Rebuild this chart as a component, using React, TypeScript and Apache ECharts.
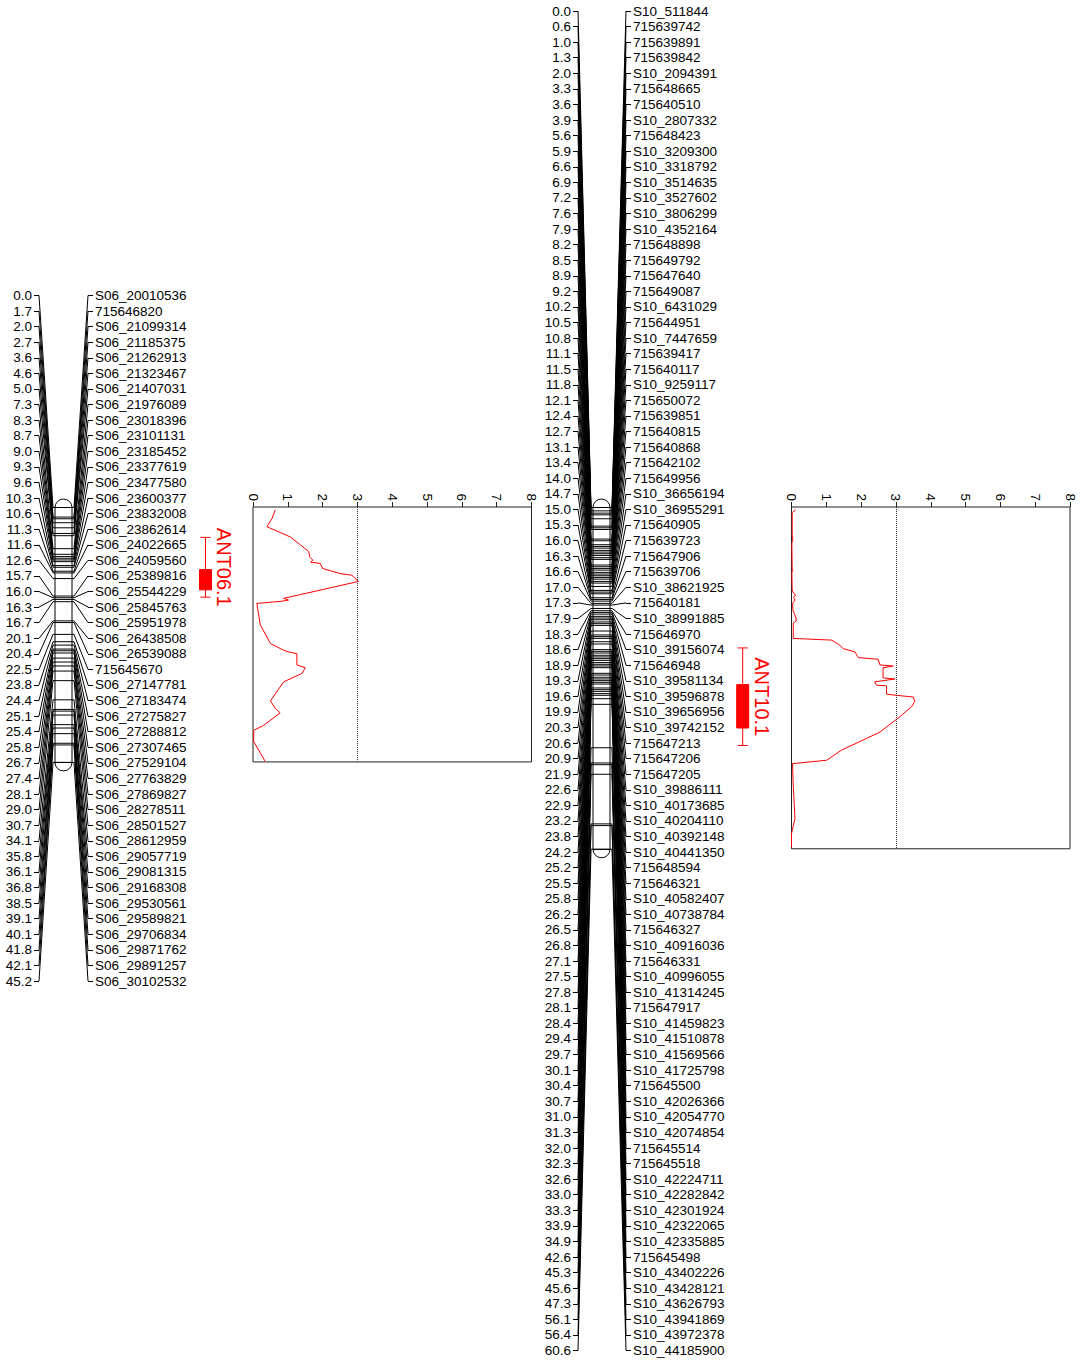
import React, { useEffect, useRef } from "react";
import * as echarts from "echarts";

// ---------- DATA ----------
const leftMarkerCM = [0.0, 1.7, 2.0, 2.7, 3.6, 4.6, 5.0, 7.3, 8.3, 8.7, 9.0, 9.3, 9.6, 10.3, 10.6, 11.3, 11.6, 12.6, 15.7, 16.0, 16.3, 16.7, 20.1, 20.4, 22.5, 23.8, 24.4, 25.1, 25.4, 25.8, 26.7, 27.4, 28.1, 29.0, 30.7, 34.1, 35.8, 36.1, 36.8, 38.5, 39.1, 40.1, 41.8, 42.1, 45.2];
const leftMarkerNames = ["S06_20010536", "715646820", "S06_21099314", "S06_21185375", "S06_21262913", "S06_21323467", "S06_21407031", "S06_21976089", "S06_23018396", "S06_23101131", "S06_23185452", "S06_23377619", "S06_23477580", "S06_23600377", "S06_23832008", "S06_23862614", "S06_24022665", "S06_24059560", "S06_25389816", "S06_25544229", "S06_25845763", "S06_25951978", "S06_26438508", "S06_26539088", "715645670", "S06_27147781", "S06_27183474", "S06_27275827", "S06_27288812", "S06_27307465", "S06_27529104", "S06_27763829", "S06_27869827", "S06_28278511", "S06_28501527", "S06_28612959", "S06_29057719", "S06_29081315", "S06_29168308", "S06_29530561", "S06_29589821", "S06_29706834", "S06_29871762", "S06_29891257", "S06_30102532"];

const rightMarkerCM = [0.0, 0.6, 1.0, 1.3, 2.0, 3.3, 3.6, 3.9, 5.6, 5.9, 6.6, 6.9, 7.2, 7.6, 7.9, 8.2, 8.5, 8.9, 9.2, 10.2, 10.5, 10.8, 11.1, 11.5, 11.8, 12.1, 12.4, 12.7, 13.1, 13.4, 14.0, 14.7, 15.0, 15.3, 16.0, 16.3, 16.6, 17.0, 17.3, 17.9, 18.3, 18.6, 18.9, 19.3, 19.6, 19.9, 20.3, 20.6, 20.9, 21.9, 22.6, 22.9, 23.2, 23.8, 24.2, 25.2, 25.5, 25.8, 26.2, 26.5, 26.8, 27.1, 27.5, 27.8, 28.1, 28.4, 29.4, 29.7, 30.1, 30.4, 30.7, 31.0, 31.3, 32.0, 32.3, 32.6, 33.0, 33.3, 33.9, 34.9, 42.6, 45.3, 45.6, 47.3, 56.1, 56.4, 60.6];
const rightMarkerNames = ["S10_511844", "715639742", "715639891", "715639842", "S10_2094391", "715648665", "715640510", "S10_2807332", "715648423", "S10_3209300", "S10_3318792", "S10_3514635", "S10_3527602", "S10_3806299", "S10_4352164", "715648898", "715649792", "715647640", "715649087", "S10_6431029", "715644951", "S10_7447659", "715639417", "715640117", "S10_9259117", "715650072", "715639851", "715640815", "715640868", "715642102", "715649956", "S10_36656194", "S10_36955291", "715640905", "715639723", "715647906", "715639706", "S10_38621925", "715640181", "S10_38991885", "715646970", "S10_39156074", "715646948", "S10_39581134", "S10_39596878", "S10_39656956", "S10_39742152", "715647213", "715647206", "715647205", "S10_39886111", "S10_40173685", "S10_40204110", "S10_40392148", "S10_40441350", "715648594", "715646321", "S10_40582407", "S10_40738784", "715646327", "S10_40916036", "715646331", "S10_40996055", "S10_41314245", "715647917", "S10_41459823", "S10_41510878", "S10_41569566", "S10_41725798", "715645500", "S10_42026366", "S10_42054770", "S10_42074854", "715645514", "715645518", "S10_42224711", "S10_42282842", "S10_42301924", "S10_42322065", "S10_42335885", "715645498", "S10_43402226", "S10_43428121", "S10_43626793", "S10_43941869", "S10_43972378", "S10_44185900"];

// LOD profile, chromosome 06 (position cM, LOD)
const ant06Pos = [0.5, 2.0, 3.5, 5.3, 6.7, 7.9, 8.9, 9.4, 9.8, 10.0, 10.9, 11.8, 12.1, 13.2, 16.2, 16.5, 16.7, 17.1, 20.9, 24.2, 25.4, 25.7, 26.0, 28.0, 28.5, 29.5, 31.0, 34.4, 35.7, 36.5, 38.7, 39.6, 41.6, 45.1];
const ant06Lod = [0.64, 0.55, 0.40, 1.07, 1.36, 1.60, 1.63, 1.72, 1.66, 1.93, 2.0, 2.5, 2.84, 3.03, 0.88, 1.02, 0.83, 0.11, 0.21, 0.50, 0.88, 1.02, 1.26, 1.26, 1.50, 1.41, 0.88, 0.50, 0.64, 0.78, 0.31, 0.02, 0.02, 0.35];

// LOD profile, chromosome 10 (position cM, LOD)
const ant10Pos = [0.5, 1.0, 5.0, 6.0, 6.3, 11.0, 11.3, 11.6, 14.7, 15.3, 15.6, 16.0, 16.5, 17.0, 17.5, 18.5, 19.5, 20.2, 20.6, 23.3, 23.6, 24.5, 25.1, 25.7, 26.7, 27.0, 28.0, 28.2, 28.5, 30.3, 30.5, 31.0, 31.6, 31.7, 33.2, 33.7, 34.5, 35.4, 37.2, 39.9, 41.6, 43.1, 44.9, 45.5, 49.3, 55.2, 57.9, 60.3];
const ant10Lod = [0.12, 0.02, 0.02, 0.04, 0.01, 0.02, 0.04, 0.01, 0.02, 0.06, 0.12, 0.06, 0.10, 0.04, 0.03, 0.05, 0.12, 0.14, 0.05, 0.05, 1.15, 1.39, 1.48, 1.82, 1.92, 2.49, 2.54, 2.92, 2.63, 2.63, 2.97, 2.39, 2.44, 2.73, 2.73, 3.50, 3.54, 3.45, 3.11, 2.54, 1.96, 1.44, 1.01, 0.03, 0.05, 0.10, 0.0, 0.0];

const lodThreshold = 3;
const lodMax = 8;

// QTL intervals (cM)
const qtlNames = ["ANT06.1", "ANT10.1"];
const qtlOuterStart = [5.3, 24.9];
const qtlInnerStart = [11.0, 31.4];
const qtlInnerEnd = [14.6, 39.1];
const qtlOuterEnd = [15.9, 42.2];

// ---------- LAYOUT ----------
const FONT = "'Liberation Sans', Arial, Helvetica, sans-serif";
const PX_PER_CM = 5.64;
const CHR_TOP = 507.5;
const maxLeft = leftMarkerCM[leftMarkerCM.length - 1];
const maxRight = rightMarkerCM[rightMarkerCM.length - 1];
const maxAll = Math.max(maxLeft, maxRight);

const chrLayouts = [
  { tickL: 39, diagL: 53, barL: 55, barR: 72, diagR: 74, tickR: 88, labelAxis: 0, cms: leftMarkerCM },
  { tickL: 578, diagL: 591, barL: 593, barR: 610, diagR: 612, tickR: 626, labelAxis: 2, cms: rightMarkerCM },
];
const qtlLayouts = [
  { x: 205.5, textX: 224 },
  { x: 742.7, textX: 761.5 },
];

function labelAxis(gridIndex: number, position: string, data: string[]) {
  return {
    type: "category",
    gridIndex,
    position,
    data,
    inverse: true,
    boundaryGap: false,
    axisLine: { show: false },
    axisTick: { show: true, length: 5, interval: 0, lineStyle: { color: "#000", width: 1 } },
    axisLabel: { show: true, interval: 0, margin: 7, color: "#000", fontSize: 13.5, fontFamily: FONT },
    splitLine: { show: false },
  };
}

function lodXAxis(gridIndex: number) {
  return {
    type: "value",
    gridIndex,
    position: "top",
    min: 0,
    max: lodMax,
    interval: 1,
    axisLine: { show: false },
    axisTick: { show: true, length: 5, lineStyle: { color: "#222", width: 1 } },
    axisLabel: { rotate: -90, margin: 6, color: "#000", fontSize: 13.5, fontFamily: FONT },
    splitLine: { show: false },
  };
}

function lodSeries(xi: number, yi: number, pos: number[], lod: number[]) {
  return {
    type: "line",
    xAxisIndex: xi,
    yAxisIndex: yi,
    data: pos.map((p, i) => [lod[i], p]),
    symbol: "none",
    showSymbol: false,
    silent: true,
    lineStyle: { color: "#ff0000", width: 1 },
    markLine: {
      silent: true,
      symbol: ["none", "none"],
      label: { show: false },
      lineStyle: { color: "#333", width: 1, type: "dotted" },
      data: [{ xAxis: lodThreshold }],
    },
  };
}

export default function App() {
  const ref = useRef<HTMLDivElement>(null);

  useEffect(() => {
    const chart = echarts.init(ref.current!, null, { renderer: "svg" });
    const option: any = {
      animation: false,
      backgroundColor: "#fff",
      grid: [
        { left: 39, top: 295.5, width: 49, height: 685.5 },
        { left: 578, top: 11, width: 48, height: 1339.5 },
        { left: 0, top: CHR_TOP, width: 10, height: maxAll * PX_PER_CM },
        { left: 253, top: 507, width: 278.5, height: maxLeft * PX_PER_CM, show: true, borderColor: "#222", borderWidth: 1, backgroundColor: "transparent" },
        { left: 791.5, top: 507, width: 278.5, height: maxRight * PX_PER_CM, show: true, borderColor: "#222", borderWidth: 1, backgroundColor: "transparent" },
      ],
      xAxis: [
        { type: "value", gridIndex: 0, show: false, min: 0, max: 1 },
        { type: "value", gridIndex: 1, show: false, min: 0, max: 1 },
        { type: "value", gridIndex: 2, show: false, min: 0, max: 1 },
        lodXAxis(3),
        lodXAxis(4),
      ],
      yAxis: [
        labelAxis(0, "left", leftMarkerCM.map((v) => v.toFixed(1))),
        labelAxis(0, "right", leftMarkerNames),
        labelAxis(1, "left", rightMarkerCM.map((v) => v.toFixed(1))),
        labelAxis(1, "right", rightMarkerNames),
        { type: "value", gridIndex: 2, show: false, min: 0, max: maxAll, inverse: true },
        { type: "value", gridIndex: 3, show: false, min: 0, max: maxLeft, inverse: true },
        { type: "value", gridIndex: 4, show: false, min: 0, max: maxRight, inverse: true },
      ],
      series: [lodSeries(3, 5, ant06Pos, ant06Lod), lodSeries(4, 6, ant10Pos, ant10Lod)],
    };
    chart.setOption(option);

    const yChr = (cm: number) => chart.convertToPixel({ yAxisIndex: 4 }, cm) as number;
    const elements: any[] = [];

    chrLayouts.forEach((L) => {
      const cms = L.cms;
      const maxCm = cms[cms.length - 1];
      // connectors
      cms.forEach((cm, i) => {
        const yl = chart.convertToPixel({ yAxisIndex: L.labelAxis }, i) as number;
        const yc = yChr(cm);
        elements.push({
          type: "polyline",
          z: 1,
          silent: true,
          shape: { points: [[L.tickL, yl], [L.diagL, yc], [L.barL, yc]] },
          style: { stroke: "#000", lineWidth: 1, fill: null },
        });
        elements.push({
          type: "polyline",
          z: 1,
          silent: true,
          shape: { points: [[L.barR, yc], [L.diagR, yc], [L.tickR, yl]] },
          style: { stroke: "#000", lineWidth: 1, fill: null },
        });
      });
      const y0 = yChr(0);
      const y1 = yChr(maxCm);
      const cx = (L.barL + L.barR) / 2;
      const r = (L.barR - L.barL) / 2;
      elements.push({
        type: "sector", z: 2, silent: true,
        shape: { cx, cy: y0, r0: 0, r, startAngle: Math.PI, endAngle: 2 * Math.PI, clockwise: true },
        style: { fill: "#fff", stroke: "#000", lineWidth: 1 },
      });
      elements.push({
        type: "sector", z: 2, silent: true,
        shape: { cx, cy: y1, r0: 0, r, startAngle: 0, endAngle: Math.PI, clockwise: true },
        style: { fill: "#fff", stroke: "#000", lineWidth: 1 },
      });
      elements.push({
        type: "rect", z: 3, silent: true,
        shape: { x: L.barL, y: y0, width: L.barR - L.barL, height: y1 - y0 },
        style: { fill: "#fff", stroke: "#000", lineWidth: 1 },
      });
      cms.forEach((cm) => {
        const yc = yChr(cm);
        elements.push({
          type: "line", z: 4, silent: true,
          shape: { x1: L.barL, y1: yc, x2: L.barR, y2: yc },
          style: { stroke: "#000", lineWidth: 1 },
        });
      });
    });

    qtlNames.forEach((name, k) => {
      const Q = qtlLayouts[k];
      const ya = yChr(qtlOuterStart[k]);
      const yb = yChr(qtlInnerStart[k]);
      const yc = yChr(qtlInnerEnd[k]);
      const yd = yChr(qtlOuterEnd[k]);
      const red = "#ff0000";
      elements.push({ type: "line", silent: true, shape: { x1: Q.x, y1: ya, x2: Q.x, y2: yd }, style: { stroke: red, lineWidth: 1 } });
      elements.push({ type: "line", silent: true, shape: { x1: Q.x - 5, y1: ya, x2: Q.x + 5, y2: ya }, style: { stroke: red, lineWidth: 1 } });
      elements.push({ type: "line", silent: true, shape: { x1: Q.x - 5, y1: yd, x2: Q.x + 5, y2: yd }, style: { stroke: red, lineWidth: 1 } });
      elements.push({ type: "rect", silent: true, shape: { x: Q.x - 6, y: yb, width: 12, height: yc - yb }, style: { fill: red, stroke: red, lineWidth: 1 } });
      elements.push({
        type: "text",
        silent: true,
        x: Q.textX,
        y: (ya + yd) / 2,
        rotation: -Math.PI / 2,
        style: {
          text: name,
          fill: red,
          font: `20px ${FONT}`,
          textAlign: "center",
          textVerticalAlign: "middle",
          align: "center",
          verticalAlign: "middle",
        },
      });
    });

    chart.setOption({ graphic: { elements } });
    return () => chart.dispose();
  }, []);

  return (
    <div
      ref={ref}
      style={{ position: "absolute", left: 0, top: 0, width: 1083, height: 1362, background: "#fff" }}
    />
  );
}
